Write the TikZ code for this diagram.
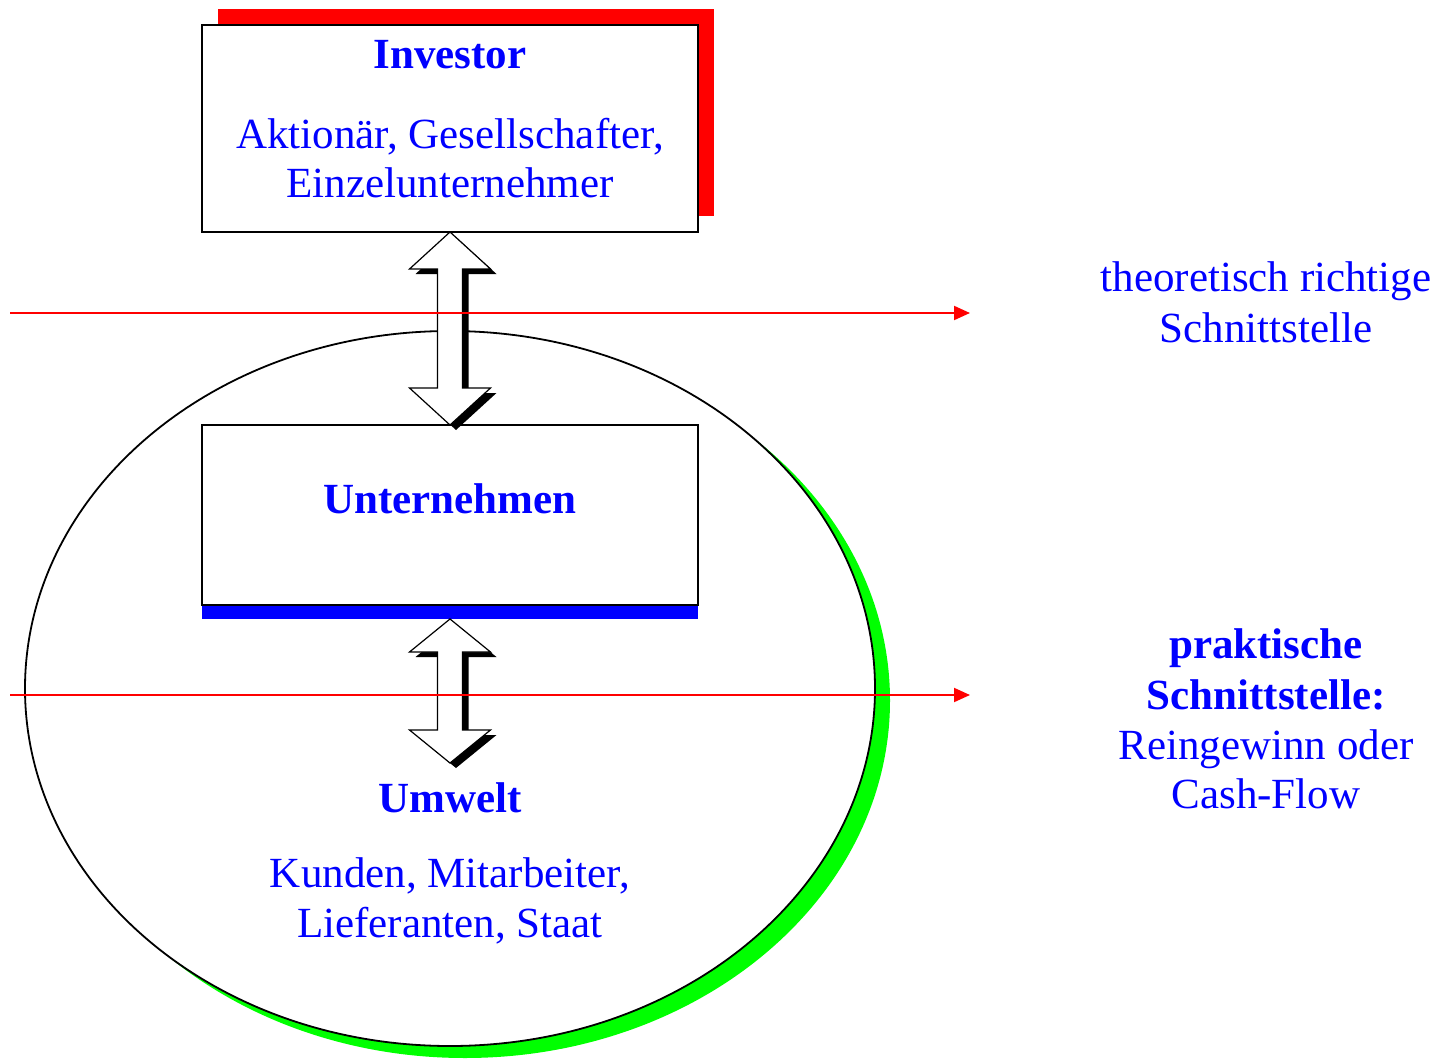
\documentclass[tikz,border=0pt]{standalone}
\usepackage{fontspec}
\setmainfont{Liberation Serif}
\usetikzlibrary{shapes.geometric,arrows.meta,calc}
\tikzset{
  box/.style={draw=black, fill=white, line width=0.8pt, inner sep=0pt, outer sep=0pt, minimum width=248pt},
  shbox/.style={draw=none, inner sep=0pt, outer sep=0pt, minimum width=248pt},
  txt/.style={text=blue, font=\fontsize{21.5}{25}\selectfont, anchor=base, inner sep=0pt},
  btxt/.style={text=blue, font=\fontsize{21.5}{25}\selectfont\bfseries, anchor=base, inner sep=0pt},
  arrbody/.style={draw=black, fill=white, line width=0.6pt, line join=miter},
  arrshadow/.style={fill=black},
  cutline/.style={draw=red, line width=1pt, -{Triangle[length=8pt,width=7pt]}},
}
\newcommand\blockarrow[3]{%
  \foreach \ox/\oy/\sty in {3pt/-2.5pt/arrshadow, 0pt/0pt/arrbody}{%
    \path[\sty] let \p1=(#1), \p2=(#2) in
      (\x1+\ox,\y1+\oy) -- (\x1+20.25pt+\ox,\y1-#3+\oy) -- (\x1+6.25pt+\ox,\y1-#3+\oy)
      -- (\x1+6.25pt+\ox,\y2+#3+\oy) -- (\x1+20.25pt+\ox,\y2+#3+\oy) -- (\x1+\ox,\y2+\oy)
      -- (\x1-20.25pt+\ox,\y2+#3+\oy) -- (\x1-6.25pt+\ox,\y2+#3+\oy) -- (\x1-6.25pt+\ox,\y1-#3+\oy)
      -- (\x1-20.25pt+\ox,\y1-#3+\oy) -- cycle;
  }}
\begin{document}
\begin{tikzpicture}[x=0.5pt,y=-0.5pt]
\useasboundingbox (0,0) rectangle (1434,1059);
% environment ellipse with green shadow
\fill[green] (465,700.5) ellipse [x radius=212.5pt, y radius=178.75pt];
\node (env) [draw=black, fill=white, ellipse, line width=0.9pt, inner sep=0pt, outer sep=0pt,
  minimum width=425pt, minimum height=357.5pt] at (450,688.5) {};
% investor box with red shadow
\node (invsh) [shbox, fill=red, minimum height=103.5pt] at (466,112.5) {};
\node (inv) [box, minimum height=103.5pt] at (450,128.5) {};
% company box with blue shadow
\node (untsh) [shbox, fill=blue, minimum height=90pt] at (450,529) {};
\node (unt) [box, minimum height=90pt] at (450,515) {};
% arrows
\coordinate (uend) at (450,763);
\blockarrow{inv.south}{unt.north}{18.5pt}
\blockarrow{untsh.south}{uend}{16.5pt}
% cut lines
\coordinate (c1s) at (10,313);
\coordinate (c1e) at (970,313);
\coordinate (c2s) at (10,695);
\coordinate (c2e) at (970,695);
\draw[cutline] (c1s) -- (c1e);
\draw[cutline] (c2s) -- (c2e);
% texts
\node (t1) [btxt] at (450,69) {Investor};
\node (t2) [txt] at (450,149) {Aktionär, Gesellschafter,};
\node (t3) [txt] at (450,198) {Einzelunternehmer};
\node (t4) [btxt] at (450,513) {Unternehmen};
\node (t5) [btxt] at (450,812) {Umwelt};
\node (t6) [txt] at (450,887) {Kunden, Mitarbeiter,};
\node (t7) [txt] at (450,937) {Lieferanten, Staat};
\node (r1) [txt] at (1266,292) {theoretisch richtige};
\node (r2) [txt] at (1266,342) {Schnittstelle};
\node (r3) [btxt] at (1266,658) {praktische};
\node (r4) [btxt] at (1266,709) {Schnittstelle:};
\node (r5) [txt] at (1266,759) {Reingewinn oder};
\node (r6) [txt] at (1266,808) {Cash-Flow};
\end{tikzpicture}
\end{document}
